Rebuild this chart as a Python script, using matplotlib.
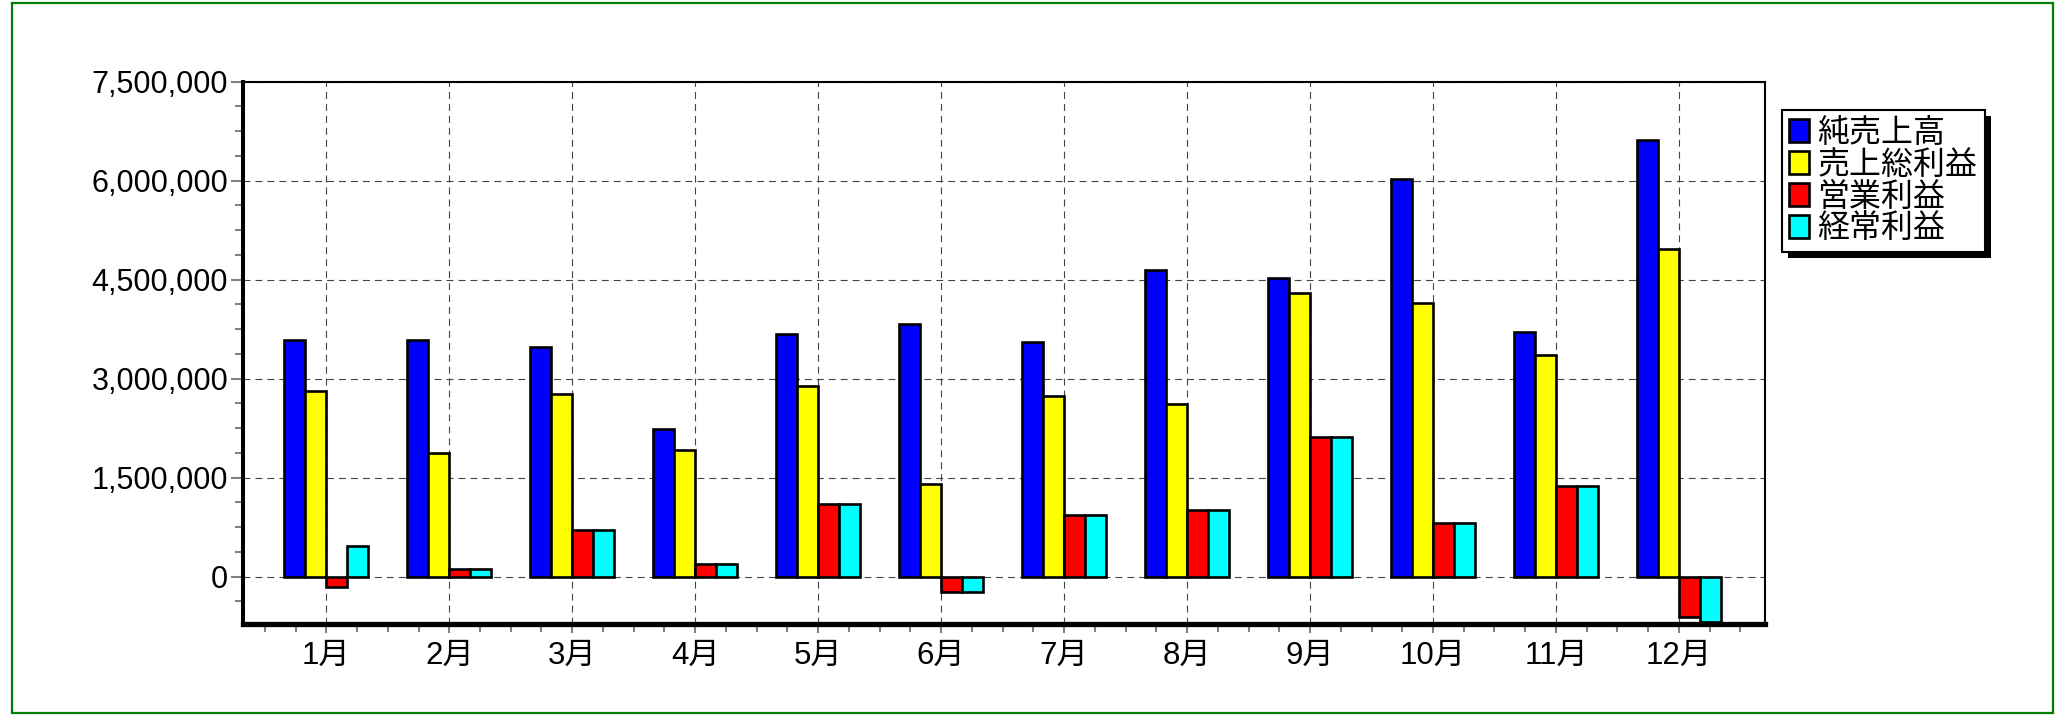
import matplotlib
matplotlib.use('Agg')
import matplotlib.pyplot as plt
from matplotlib.ticker import MultipleLocator, FixedLocator, FuncFormatter
from matplotlib.patches import Rectangle
from matplotlib.transforms import IdentityTransform
from matplotlib.font_manager import FontProperties
import numpy as np

plt.rcParams['lines.scale_dashes'] = False

# ---------------- data ----------------
months = ['1月', '2月', '3月', '4月', '5月', '6月', '7月', '8月', '9月', '10月', '11月', '12月']
series_names = ['純売上高', '売上総利益', '営業利益', '経常利益']
net_sales = [3590000, 3590000, 3480000, 2230000, 3670000, 3830000,
             3556000, 4650000, 4530000, 6020000, 3710000, 6610000]
gross_profit = [2810000, 1870000, 2770000, 1915000, 2890000, 1400000,
                2730000, 2620000, 4300000, 4140000, 3360000, 4960000]
operating_profit = [-150000, 120000, 700000, 190000, 1100000, -240000,
                    935000, 1010000, 2110000, 820000, 1370000, -610000]
ordinary_profit = [465000, 120000, 700000, 190000, 1100000, -240000,
                   935000, 1010000, 2110000, 820000, 1370000, -690000]
y_ticks = [0, 1500000, 3000000, 4500000, 6000000, 7500000]

series_values = [net_sales, gross_profit, operating_profit, ordinary_profit]
colors = ['#0000FF', '#FFFF00', '#FF0000', '#00FFFF']

# ---------------- figure ----------------
W, H = 2069, 715
fig = plt.figure(figsize=(W / 100, H / 100), dpi=100)
fig.patch.set_facecolor('white')

ax_left, ax_right, ax_top, ax_bottom = 243.3, 1765.0, 81.7, 623.5
ax = fig.add_axes([ax_left / W, 1 - ax_bottom / H,
                   (ax_right - ax_left) / W, (ax_bottom - ax_top) / H])

x = np.arange(len(months))
bw = 0.171
offsets = [-1.5 * bw, -0.5 * bw, 0.5 * bw, 1.5 * bw]
handles = []
for vals, col, off, name in zip(series_values, colors, offsets, series_names):
    b = ax.bar(x + off, vals, width=bw, color=col, edgecolor='black',
               linewidth=1.9, zorder=3, label=name)
    handles.append(b)

ax.set_xlim(-0.675, 11.70)
ax.set_ylim(-710000, 7500000)

ax.yaxis.set_major_locator(FixedLocator(y_ticks))
ax.yaxis.set_minor_locator(MultipleLocator(375000))
ax.yaxis.set_major_formatter(FuncFormatter(lambda v, p: f'{int(round(v)):,}'))
ax.set_xticks(x)
ax.set_xticklabels(months)
ax.xaxis.set_minor_locator(MultipleLocator(0.25))

for lab in ax.get_yticklabels():
    lab.set_fontfamily(['Liberation Sans', 'DejaVu Sans'])
    lab.set_fontsize(22)
for lab in ax.get_xticklabels():
    lab.set_fontfamily(['Liberation Sans', 'Noto Sans CJK JP'])
    lab.set_fontsize(22.5)

ax.tick_params(axis='y', which='major', length=8.4, width=1.5, color='#808080',
               direction='out', pad=2.5)
ax.tick_params(axis='y', which='minor', length=6.0, width=1.5, color='#808080',
               direction='out')
ax.tick_params(axis='x', which='major', length=6.5, width=1.5, color='#808080',
               direction='out', pad=6)
ax.tick_params(axis='x', which='minor', length=5.8, width=1.5, color='#808080',
               direction='out')

ax.grid(True, which='major', axis='both', color='#444444',
        linestyle=(0, (5, 3.6)), linewidth=0.8, zorder=0)
ax.set_axisbelow(True)

ax.spines['left'].set_linewidth(2.9)
ax.spines['bottom'].set_linewidth(3.8)
ax.spines['top'].set_linewidth(1.5)
ax.spines['right'].set_linewidth(1.5)
for s in ax.spines.values():
    s.set_color('black')
    s.set_zorder(4)

# legend
leg_x0, leg_y0 = 1781.7, 110.0
leg = fig.legend(handles=handles, labels=series_names, loc='upper left',
                 bbox_to_anchor=(leg_x0 / W, 1 - leg_y0 / H),
                 bbox_transform=fig.transFigure, borderaxespad=0,
                 frameon=True, fancybox=False, framealpha=1,
                 prop=FontProperties(family=['Noto Sans CJK JP'], size=23),
                 handlelength=0.62, handleheight=0.72, handletextpad=0.28,
                 labelspacing=0.0, borderpad=0.22)
leg.get_frame().set_edgecolor('black')
leg.get_frame().set_linewidth(1.5)
for p in leg.get_patches():
    p.set_linewidth(1.9)
leg.set_zorder(5)

fig.canvas.draw()
bb = leg.get_window_extent()
shadow = Rectangle((bb.x0 + 6, bb.y0 - 6), bb.width, bb.height,
                   transform=IdentityTransform(), facecolor='black',
                   edgecolor='none', zorder=4.9)
fig.add_artist(shadow)

# green outer border
border = Rectangle((11.7 / W, 1 - 713 / H), (2053 - 11.7) / W, (713 - 2.5) / H,
                   transform=fig.transFigure, fill=False, edgecolor='#008000',
                   linewidth=1.6, zorder=10)
fig.add_artist(border)

fig.savefig('out.png', dpi=100)
